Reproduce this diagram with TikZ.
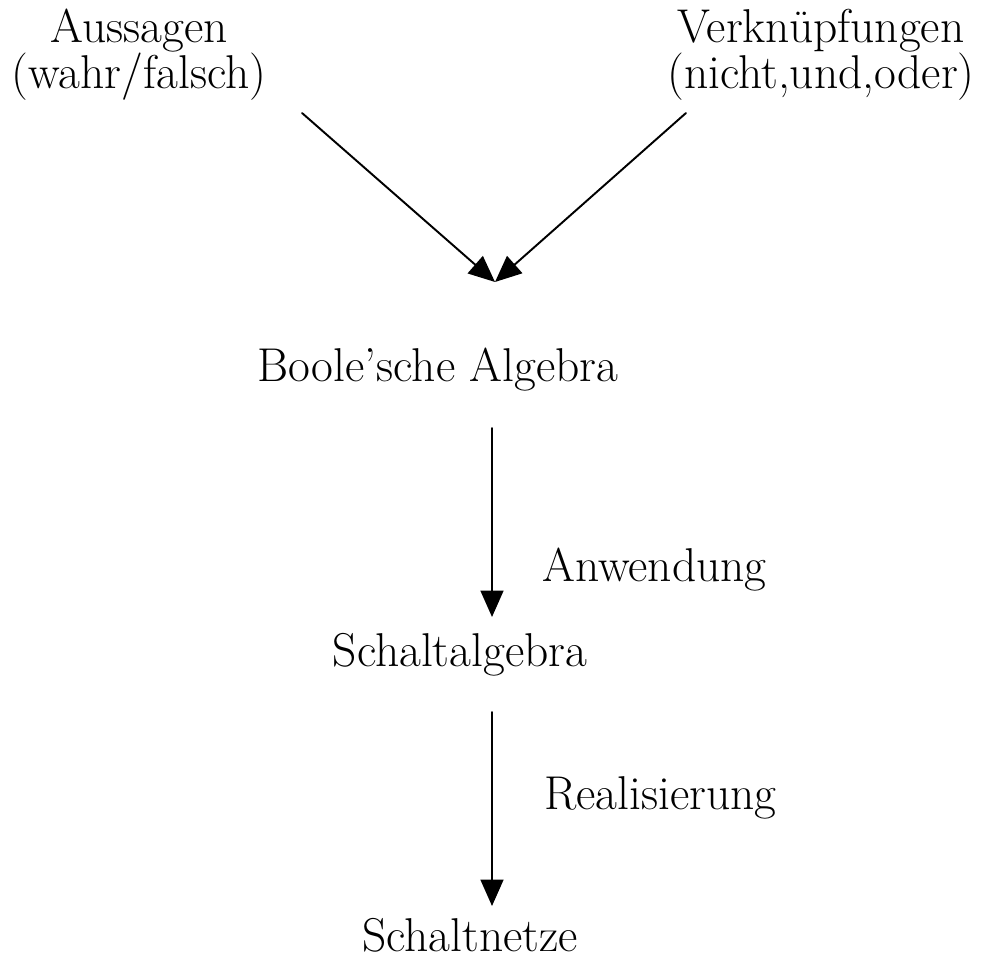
\documentclass[tikz,border=0pt]{standalone}
\usepackage{xcolor}
\usepackage{amssymb}
\usepackage{amsmath}
\usepackage{tikz}
\usetikzlibrary{calc}
\usetikzlibrary{arrows,arrows.meta}
\tikzstyle{every node}=[font=\fontsize{27}{26}\selectfont]
\begin{document}
\begin{tikzpicture}[line cap=round,line join=round,>={Triangle[length=15pt,width=13pt]},x=1.0cm,y=1.0cm]
            \useasboundingbox (0,0) rectangle (19.74,-19.18);
            \node[align=center] (aussagen) at (2.78,-1.1) {Aussagen\\(wahr/falsch)};
            \node[align=center] (verkn) at (16.42,-1.1) {Verkn\"upfungen\\(nicht,und,oder)};
            \node (boole) at (8.76,-7.4) {Boole'sche Algebra};
            \node (schaltalg) at (9.2,-13.1) {Schaltalgebra};
            \node (schaltnetze) at (9.4,-18.7) {Schaltnetze};
            \node[anchor=west] (anw) at (10.72,-11.4) {Anwendung};
            \node[anchor=west] (real) at (10.76,-15.96) {Realisierung};
            \coordinate (a1) at (6.04,-2.26);
            \coordinate (b1) at (13.72,-2.26);
            \coordinate (m1) at (9.9,-5.64);
            \coordinate (c1) at (9.84,-8.56);
            \coordinate (c2) at (9.84,-12.34);
            \coordinate (d1) at (9.84,-14.24);
            \coordinate (d2) at (9.84,-18.12);
            \draw [->,line width=1.1pt] (a1) -- (m1);
            \draw [->,line width=1.1pt] (b1) -- (m1);
            \draw [->,line width=1.1pt] (c1) -- (c2);
            \draw [->,line width=1.1pt] (d1) -- (d2);
        \end{tikzpicture}
\end{document}
